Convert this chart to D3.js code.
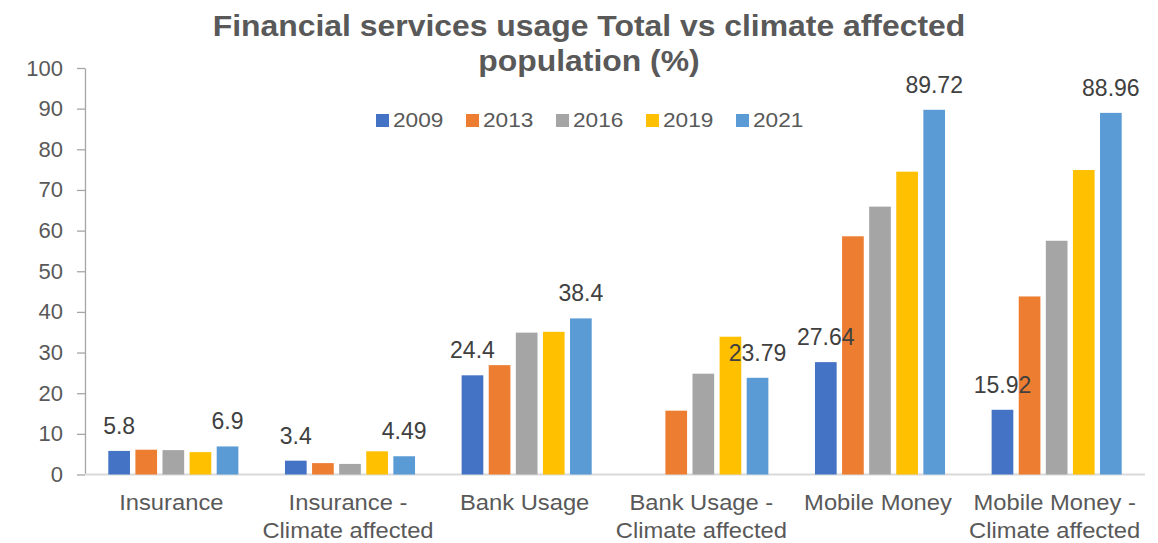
<!DOCTYPE html>
<html>
<head>
<meta charset="utf-8">
<script src="https://cdn.jsdelivr.net/npm/d3@7"></script>
<style>
  body { margin: 0; background: #fff; }
  svg { display: block; font-family: "Liberation Sans", Arial, sans-serif; }
</style>
</head>
<body>
<svg id="chart" width="1158" height="543"></svg>
<script>
// categories (two-line labels) and years
const categories = [
  ["Insurance"],
  ["Insurance -", "Climate affected"],
  ["Bank Usage"],
  ["Bank Usage -", "Climate affected"],
  ["Mobile Money"],
  ["Mobile Money -", "Climate affected"]
];
const years = ["2009", "2013", "2016", "2019", "2021"];

// one array per year (null = no bar)
const v2009 = [5.8, 3.4, 24.4, null, 27.64, 15.92];
const v2013 = [6.1, 2.8, 26.9, 15.7, 58.6, 43.8];
const v2016 = [6.0, 2.6, 34.9, 24.8, 65.9, 57.5];
const v2019 = [5.5, 5.7, 35.1, 33.9, 74.5, 74.9];
const v2021 = [6.9, 4.49, 38.4, 23.79, 89.72, 88.96];
const yTicks = [0, 10, 20, 30, 40, 50, 60, 70, 80, 90, 100];

// only these series carry data labels
const labelled = ["2009", "2021"];

const colors = ["#4472C4", "#ED7D31", "#A5A5A5", "#FFC000", "#5B9BD5"];
const textColor = "#595959";

const series = [v2009, v2013, v2016, v2019, v2021];
const rows = categories.map((c, i) => ({
  key: i,
  label: c,
  values: years.map((y, j) => ({ year: y, value: series[j][i] }))
}));

const svg = d3.select("#chart");
const plotLeft = 85, plotRight = 1145, plotTop = 68, plotBottom = 474.5;

const x0 = d3.scaleBand()
  .domain(rows.map(d => d.key))
  .range([plotLeft, plotRight])
  .padding(0);

const groupPad = 23.3;
const x1 = d3.scaleBand()
  .domain(years)
  .range([groupPad, x0.bandwidth() - groupPad])
  .paddingInner(0.2);

const y = d3.scaleLinear().domain([0, 100]).range([plotBottom, plotTop]);

const color = d3.scaleOrdinal().domain(years).range(colors);

// the source text is a bit wider than Arial, so stretch it a little
const stretch = 1.08;

// title
svg.append("text")
  .attr("transform", "translate(589,0) scale(1.1,1)")
  .attr("text-anchor", "middle")
  .attr("font-weight", "bold")
  .attr("font-size", "29px")
  .attr("fill", textColor)
  .selectAll("tspan")
  .data(["Financial services usage Total vs climate affected", "population (%)"])
  .enter()
  .append("tspan")
  .attr("x", 0)
  .attr("y", (d, i) => 36 + i * 35)
  .text(d => d);

// y axis
const yAxis = d3.axisLeft(y)
  .tickValues(yTicks)
  .tickSize(8)
  .tickSizeOuter(0)
  .tickPadding(14);

const gy = svg.append("g")
  .attr("transform", `translate(${plotLeft},0)`)
  .call(yAxis);
gy.select(".domain").attr("stroke", "#A6A6A6").attr("stroke-width", 1.3);
gy.selectAll(".tick line").attr("stroke", "#A6A6A6").attr("stroke-width", 1.3);
gy.selectAll(".tick text")
  .attr("fill", textColor)
  .attr("font-size", "22px")
  .attr("font-family", "Liberation Sans, Arial, sans-serif");

// x baseline
svg.append("line")
  .attr("x1", plotLeft)
  .attr("x2", plotRight)
  .attr("y1", y(0))
  .attr("y2", y(0))
  .attr("stroke", "#D9D9D9")
  .attr("stroke-width", 2);

// bars
const groups = svg.append("g")
  .selectAll("g")
  .data(rows)
  .enter()
  .append("g")
  .attr("transform", d => `translate(${x0(d.key)},0)`);

groups.selectAll("rect")
  .data(d => d.values.filter(v => v.value != null))
  .enter()
  .append("rect")
  .attr("x", d => x1(d.year))
  .attr("y", d => y(d.value))
  .attr("width", x1.bandwidth())
  .attr("height", d => y(0) - y(d.value))
  .attr("fill", d => color(d.year));

// data labels
groups.selectAll("text.lbl")
  .data(d => d.values.filter(v => v.value != null && labelled.includes(v.year)))
  .enter()
  .append("text")
  .attr("class", "lbl")
  .attr("x", d => x1(d.year) + x1.bandwidth() / 2)
  .attr("y", d => y(d.value) - 17)
  .attr("text-anchor", "middle")
  .attr("font-size", "23px")
  .attr("fill", "#404040")
  .text(d => String(d.value));

// category labels
svg.append("g")
  .selectAll("text")
  .data(rows)
  .enter()
  .append("text")
  .attr("transform", d => `translate(${x0(d.key) + x0.bandwidth() / 2 - 2},0) scale(${stretch},1)`)
  .attr("text-anchor", "middle")
  .attr("font-size", "22px")
  .attr("fill", textColor)
  .each(function (d) {
    d3.select(this)
      .selectAll("tspan")
      .data(d.label)
      .enter()
      .append("tspan")
      .attr("x", 0)
      .attr("y", (t, i) => 510 + i * 28)
      .text(t => t);
  });

// legend
const legend = svg.append("g")
  .selectAll("g")
  .data(years)
  .enter()
  .append("g")
  .attr("transform", (d, i) => `translate(${376 + i * 90},114)`);

legend.append("rect")
  .attr("width", 13)
  .attr("height", 13)
  .attr("fill", d => color(d));

legend.append("text")
  .attr("transform", `translate(17,13) scale(${stretch},1)`)
  .attr("font-size", "21px")
  .attr("fill", textColor)
  .text(d => d);
</script>
</body>
</html>
